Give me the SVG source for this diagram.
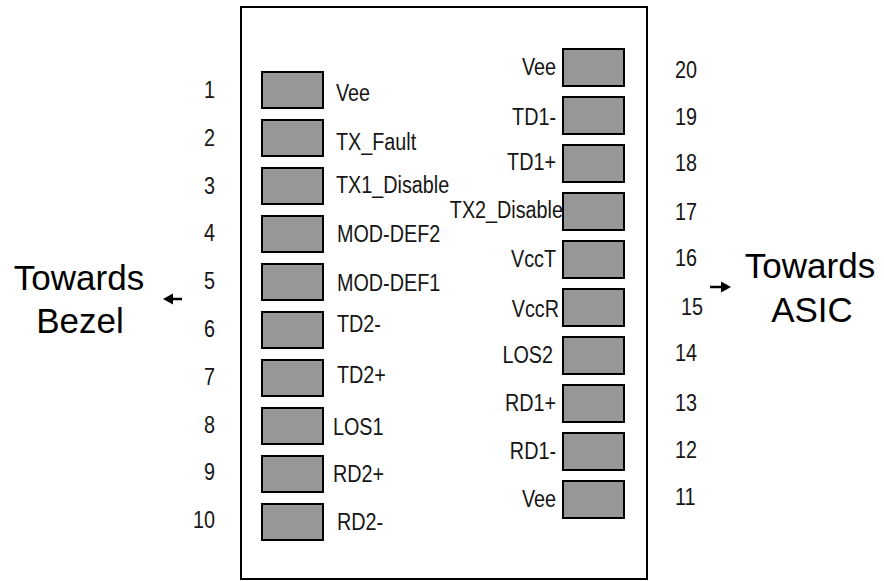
<svg xmlns="http://www.w3.org/2000/svg" width="884" height="581" viewBox="0 0 884 581">
<style>
.box{fill:#ffffff;stroke:#000;stroke-width:2}
.pad{fill:#979797;stroke:#000;stroke-width:2}
.lbl{font-family:"Liberation Sans",Arial,sans-serif;font-size:23px;fill:#151515}
.end{text-anchor:end}
.big{font-family:"Liberation Sans",Arial,sans-serif;font-size:35px;fill:#000;text-anchor:middle}
.arr{stroke:#000;stroke-width:2.5;fill:none}
.head{fill:#000}
</style>
<rect width="884" height="581" fill="#fff"/>
<g id="module"><rect class="box" x="241" y="7" width="406" height="572"/></g>

<g id="pin1"><rect class="pad" x="262" y="72" width="61" height="36"/><text class="lbl" transform="translate(336,101) scale(.86,1)">Vee</text><text class="lbl end" transform="translate(215,98) scale(.86,1)">1</text></g>
<g id="pin2"><rect class="pad" x="262" y="120" width="61" height="36"/><text class="lbl" transform="translate(336,150) scale(.86,1)">TX_Fault</text><text class="lbl end" transform="translate(215,146) scale(.86,1)">2</text></g>
<g id="pin3"><rect class="pad" x="262" y="168" width="61" height="36"/><text class="lbl" transform="translate(336,193) scale(.86,1)">TX1_Disable</text><text class="lbl end" transform="translate(215,194) scale(.86,1)">3</text></g>
<g id="pin4"><rect class="pad" x="262" y="216" width="61" height="36"/><text class="lbl" transform="translate(337,242) scale(.86,1)">MOD-DEF2</text><text class="lbl end" transform="translate(215,241) scale(.86,1)">4</text></g>
<g id="pin5"><rect class="pad" x="262" y="264" width="61" height="36"/><text class="lbl" transform="translate(337,291) scale(.86,1)">MOD-DEF1</text><text class="lbl end" transform="translate(215,289) scale(.86,1)">5</text></g>
<g id="pin6"><rect class="pad" x="262" y="312" width="61" height="36"/><text class="lbl" transform="translate(337,332) scale(.86,1)">TD2-</text><text class="lbl end" transform="translate(215,337) scale(.86,1)">6</text></g>
<g id="pin7"><rect class="pad" x="262" y="360" width="61" height="36"/><text class="lbl" transform="translate(337,383) scale(.86,1)">TD2+</text><text class="lbl end" transform="translate(215,385) scale(.86,1)">7</text></g>
<g id="pin8"><rect class="pad" x="262" y="408" width="61" height="36"/><text class="lbl" transform="translate(333,435) scale(.86,1)">LOS1</text><text class="lbl end" transform="translate(215,433) scale(.86,1)">8</text></g>
<g id="pin9"><rect class="pad" x="262" y="456" width="61" height="36"/><text class="lbl" transform="translate(333,482) scale(.86,1)">RD2+</text><text class="lbl end" transform="translate(215,480) scale(.86,1)">9</text></g>
<g id="pin10"><rect class="pad" x="262" y="504" width="61" height="36"/><text class="lbl" transform="translate(337,530) scale(.86,1)">RD2-</text><text class="lbl end" transform="translate(215,528) scale(.86,1)">10</text></g>

<g id="pin20"><rect class="pad" x="563" y="49" width="61" height="37"/><text class="lbl end" transform="translate(556,75) scale(.86,1)">Vee</text><text class="lbl" transform="translate(675,78) scale(.86,1)">20</text></g>
<g id="pin19"><rect class="pad" x="563" y="97" width="61" height="37"/><text class="lbl end" transform="translate(556,125) scale(.86,1)">TD1-</text><text class="lbl" transform="translate(675,125) scale(.86,1)">19</text></g>
<g id="pin18"><rect class="pad" x="563" y="145" width="61" height="37"/><text class="lbl end" transform="translate(556,170) scale(.86,1)">TD1+</text><text class="lbl" transform="translate(675,171) scale(.86,1)">18</text></g>
<g id="pin17"><rect class="pad" x="563" y="193" width="61" height="37"/><text class="lbl end" transform="translate(563,218) scale(.86,1)">TX2_Disable</text><text class="lbl" transform="translate(675,220) scale(.86,1)">17</text></g>
<g id="pin16"><rect class="pad" x="563" y="241" width="61" height="37"/><text class="lbl end" transform="translate(556,267) scale(.86,1)">VccT</text><text class="lbl" transform="translate(675,266) scale(.86,1)">16</text></g>
<g id="pin15"><rect class="pad" x="563" y="289" width="61" height="37"/><text class="lbl end" transform="translate(559,317) scale(.86,1)">VccR</text><text class="lbl" transform="translate(681,315) scale(.86,1)">15</text></g>
<g id="pin14"><rect class="pad" x="563" y="337" width="61" height="37"/><text class="lbl end" transform="translate(553,363) scale(.86,1)">LOS2</text><text class="lbl" transform="translate(675,361) scale(.86,1)">14</text></g>
<g id="pin13"><rect class="pad" x="563" y="385" width="61" height="37"/><text class="lbl end" transform="translate(556,411) scale(.86,1)">RD1+</text><text class="lbl" transform="translate(675,411) scale(.86,1)">13</text></g>
<g id="pin12"><rect class="pad" x="563" y="433" width="61" height="37"/><text class="lbl end" transform="translate(556,459) scale(.86,1)">RD1-</text><text class="lbl" transform="translate(675,458) scale(.86,1)">12</text></g>
<g id="pin11"><rect class="pad" x="563" y="481" width="61" height="37"/><text class="lbl end" transform="translate(556,507) scale(.86,1)">Vee</text><text class="lbl" transform="translate(675,505) scale(.86,1)">11</text></g>

<g id="bezel"><text class="big" x="79" y="290">Towards</text><text class="big" x="80" y="333">Bezel</text></g>
<g id="asic"><text class="big" x="810" y="278">Towards</text><text class="big" x="812" y="322">ASIC</text></g>

<g id="connectors">
<line class="arr" x1="182" y1="299" x2="170" y2="299"/>
<path class="head" d="M163,299 L173,293.5 L173,304.5 z"/>
<line class="arr" x1="710" y1="287" x2="723" y2="287"/>
<path class="head" d="M731,287 L721,281.5 L721,292.5 z"/>
</g>
</svg>
